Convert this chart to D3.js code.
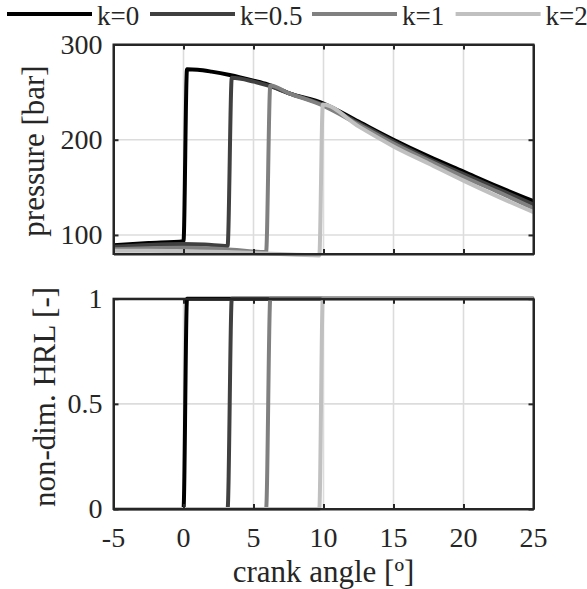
<!DOCTYPE html>
<html><head><meta charset="utf-8"><script src="https://cdn.jsdelivr.net/npm/d3@7"></script></head>
<body style="margin:0">
<script>
// series labels and grays
var labels = ["k=0", "k=0.5", "k=1", "k=2"];
var colors = ["#000000", "#404040", "#808080", "#c0c0c0"];

// pressure traces [bar], crank angle [deg]
var angle_k0  = [-5, -2.5, 0, 0.25, 1, 2, 3.3, 5, 6, 7.5, 10, 12.5, 15, 17.5, 20, 22.5, 25];
var press_k0  = [89.3, 91.5, 93.5, 274, 273.5, 271.5, 268, 262, 258, 249, 238, 219, 200, 182.5, 166.5, 150.5, 135.5];
var angle_k05 = [-5, -2.5, 0, 1.5, 3.15, 3.45, 5, 6, 7.5, 10, 12.5, 15, 17.5, 20, 22.5, 25];
var press_k05 = [87.5, 89.5, 90.5, 90, 88.5, 265, 261, 257, 249, 236.5, 217.5, 198, 180, 164, 148, 132];
var angle_k1  = [-5, -2.5, 0, 3, 5.9, 6.2, 7.5, 10, 12.5, 15, 17.5, 20, 22.5, 25];
var press_k1  = [85, 86, 86.5, 85, 82, 257, 249, 235.5, 216, 196, 178, 161, 145, 128];
var angle_k2  = [-5, -2.5, 0, 3, 6, 9.7, 9.95, 12.5, 15, 17.5, 20, 22.5, 25];
var press_k2  = [83.5, 83.5, 83, 82, 80.5, 78.5, 237, 214, 193, 175, 157, 140, 124];

// non-dim heat release law: start and end of the step
var hrl_angle_k0  = [-5, 0, 0.25, 25];
var hrl_angle_k05 = [-5, 3.15, 3.45, 25];
var hrl_angle_k1  = [-5, 5.9, 6.2, 25];
var hrl_angle_k2  = [-5, 9.7, 9.95, 25];
var hrl_value     = [0, 0, 1, 1];

var xTicks = [-5, 0, 5, 10, 15, 20, 25];
var pTicks = [100, 200, 300];
var hTicks = [0, 0.5, 1];

var tickFs = 28, labelFs = 31, legendFs = 27;

var svg = d3.select("body").append("svg")
    .attr("width", 587)
    .attr("height", 589);

var x = d3.scaleLinear().domain([-5, 25]).range([113.5, 533.5]);
var yP = d3.scaleLinear().domain([80, 300]).range([254, 44.5]);
var yH = d3.scaleLinear().domain([0, 1]).range([509, 298.7]);

var pressSeries = [
  d3.zip(angle_k0, press_k0),
  d3.zip(angle_k05, press_k05),
  d3.zip(angle_k1, press_k1),
  d3.zip(angle_k2, press_k2)
];
var hrlSeries = [hrl_angle_k0, hrl_angle_k05, hrl_angle_k1, hrl_angle_k2]
  .map(a => d3.zip(a, hrl_value));

// all the plot lines first, texts at the end in their own group
var plot = svg.append("g");
var texts = svg.append("g");

function addText(t, size) {
  return texts.append("text")
    .attr("font-size", size)
    .style("font-family", "Liberation Serif, serif")
    .attr("fill", "#262626")
    .text(t);
}

function panel(y, ticks, series, ylabel, labelX, labelY) {
  var g = plot.append("g");
  var x0 = x.range()[0], x1 = x.range()[1];
  var y0 = y.range()[0], y1 = y.range()[1];

  // grid
  g.selectAll(".vg").data(xTicks).enter().append("line")
    .attr("x1", d => x(d)).attr("x2", d => x(d))
    .attr("y1", y0).attr("y2", y1)
    .attr("stroke", "#dcdcdc").attr("stroke-width", 1.6);
  g.selectAll(".hg").data(ticks).enter().append("line")
    .attr("x1", x0).attr("x2", x1)
    .attr("y1", d => y(d)).attr("y2", d => y(d))
    .attr("stroke", "#dcdcdc").attr("stroke-width", 1.6);

  // data
  var line = d3.line().x(d => x(d[0])).y(d => y(d[1])).curve(d3.curveMonotoneX);
  g.selectAll(".series").data(series).enter().append("path")
    .attr("d", line)
    .attr("fill", "none")
    .attr("stroke", (d, i) => colors[i])
    .attr("stroke-width", 4)
    .attr("stroke-linejoin", "round");

  // axes with inward ticks on all sides, no labels
  var ax = g.append("g").attr("color", "#262626");
  ax.append("g").attr("transform", `translate(0,${y0})`)
    .call(d3.axisBottom(x).tickValues(xTicks).tickSizeInner(-5).tickSizeOuter(0).tickFormat(""));
  ax.append("g").attr("transform", `translate(0,${y1})`)
    .call(d3.axisTop(x).tickValues(xTicks).tickSizeInner(-5).tickSizeOuter(0).tickFormat(""));
  ax.append("g").attr("transform", `translate(${x0},0)`)
    .call(d3.axisLeft(y).tickValues(ticks).tickSizeInner(-5).tickSizeOuter(0).tickFormat(""));
  ax.append("g").attr("transform", `translate(${x1},0)`)
    .call(d3.axisRight(y).tickValues(ticks).tickSizeInner(-5).tickSizeOuter(0).tickFormat(""));
  ax.selectAll(".tick text").remove();
  ax.selectAll("path.domain").attr("stroke-width", 2);
  ax.selectAll(".tick line").attr("stroke-width", 2);
  ax.append("rect").attr("x", x0).attr("y", y1)
    .attr("width", x1 - x0).attr("height", y0 - y1)
    .attr("fill", "none").attr("stroke", "#262626").attr("stroke-width", 2);

  // tick labels
  ticks.forEach(function(t) {
    addText(t, tickFs).attr("x", x0 - 11).attr("y", y(t)).attr("dy", "0.33em")
      .attr("text-anchor", "end");
  });

  addText(ylabel, labelFs)
    .attr("transform", `translate(${labelX},${labelY}) rotate(-90)`)
    .attr("text-anchor", "middle");
}

panel(yP, pTicks, pressSeries, "pressure [bar]", 44, 151);
panel(yH, hTicks, hrlSeries, "non-dim. HRL [-]", 55, 397);

// x tick labels and label (bottom panel only)
xTicks.forEach(function(t) {
  addText(t, tickFs).attr("x", x(t)).attr("y", 547).attr("text-anchor", "middle");
});
addText("crank angle [º]", labelFs)
  .attr("x", (x.range()[0] + x.range()[1]) / 2).attr("y", 582)
  .attr("text-anchor", "middle");

// legend across the top
var legX = [7, 150, 312, 455.6];
labels.forEach(function(l, i) {
  plot.append("line")
    .attr("x1", legX[i]).attr("x2", legX[i] + 85)
    .attr("y1", 14).attr("y2", 14)
    .attr("stroke", colors[i]).attr("stroke-width", 4);
  addText(l, legendFs).attr("x", legX[i] + 90).attr("y", 25);
});
</script>
</body></html>
